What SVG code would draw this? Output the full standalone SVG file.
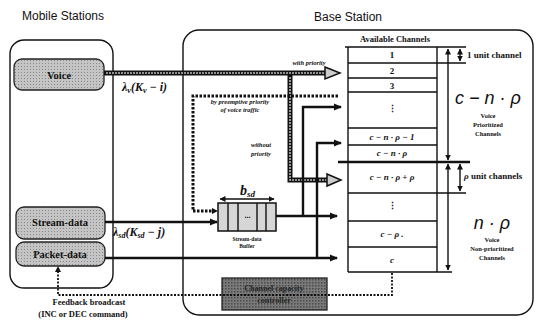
<svg xmlns="http://www.w3.org/2000/svg" width="537" height="320" viewBox="0 0 537 320">
<defs>
<marker id="ah" markerWidth="8" markerHeight="8" refX="7" refY="4" orient="auto" markerUnits="userSpaceOnUse"><path d="M0,0.5 L8,4 L0,7.5 Z" fill="#111"/></marker>
<marker id="ahs" markerWidth="6" markerHeight="6" refX="5.5" refY="3" orient="auto-start-reverse" markerUnits="userSpaceOnUse"><path d="M0,0 L6,3 L0,6 Z" fill="#111"/></marker>
<pattern id="dots" width="3" height="3" patternUnits="userSpaceOnUse"><rect width="3" height="3" fill="#c4c4c4"/><rect width="1" height="1" fill="#8a8a8a"/></pattern>
<pattern id="dark" width="3" height="3" patternUnits="userSpaceOnUse"><rect width="3" height="3" fill="#7a7a7a"/><rect width="1.5" height="1.5" fill="#4a4a4a"/></pattern>
</defs>
<style>
.sans{font-family:"Liberation Sans",Arial,sans-serif}
.ser{font-family:"Liberation Serif","DejaVu Serif","Times New Roman",serif;font-weight:bold;fill:#111}
.it{font-style:italic}
.frame{fill:none;stroke:#111;stroke-width:1.4}
.box{fill:url(#dots);stroke:#222;stroke-width:1.3}
.ln{fill:none;stroke:#111;stroke-width:2.4}
.thin{fill:none;stroke:#111;stroke-width:1.4}
.bandO{fill:none;stroke:#111;stroke-width:5}
.bandI{fill:none;stroke:#bbb;stroke-width:1.6;stroke-dasharray:2,1}
.dot{fill:none;stroke:#111;stroke-width:3;stroke-dasharray:2.5,1.5}
.fdot{fill:none;stroke:#111;stroke-width:1.8;stroke-dasharray:2,1.5}
</style>
<text class="sans" x="22" y="20" font-size="12" fill="#111">Mobile Stations</text>
<text class="sans" x="314" y="21" font-size="12" fill="#111">Base Station</text>

<g id="mobile-stations"><rect class="frame" x="10" y="40" width="103" height="248" rx="14"/></g>
<g id="base-station"><rect class="frame" x="183" y="30" width="350" height="285" rx="16"/></g>

<g id="voice"><rect class="box" x="14" y="59" width="90" height="31" rx="8"/><text class="ser" x="59" y="79" font-size="10.5" text-anchor="middle">Voice</text></g>
<g id="stream-data"><rect class="box" x="16" y="207" width="89" height="32" rx="8"/><text class="ser" x="60" y="226" font-size="10.5" text-anchor="middle">Stream-data</text></g>
<g id="packet-data"><rect class="box" x="16" y="242" width="89" height="24" rx="8"/><text class="ser" x="60" y="258" font-size="10.5" text-anchor="middle">Packet-data</text></g>

<g id="buffer">
<rect x="218" y="203" width="58" height="28" fill="#d6d6d6" stroke="#111" stroke-width="1.5"/>
<path class="thin" d="M228,203V231M238,203V231M257,203V231M266,203V231"/>
<text class="ser" x="247.5" y="218" font-size="8" text-anchor="middle">...</text>
<line x1="220" y1="199" x2="274" y2="199" class="thin" marker-start="url(#ahs)" marker-end="url(#ahs)"/>
<text class="ser it" x="240" y="195" font-size="14">b<tspan font-size="9" dy="2">sd</tspan></text>
<text class="ser" x="247" y="241" font-size="5.5" text-anchor="middle">Stream-data</text>
<text class="ser" x="247" y="248" font-size="5.5" text-anchor="middle">Buffer</text>
</g>

<g id="channel-table">
<text class="ser" x="395" y="42" font-size="8.5" text-anchor="middle">Available Channels</text>
<path class="thin" d="M348,47V272M437,47V272"/>
<path class="thin" stroke-width="1.8" d="M345,47H466M348,63H466M348,78H437M348,92H437M348,128H437M348,145H437M348,193H466M348,221H437M348,247H437M348,272H452"/>
<path class="ln" d="M338,162H470"/>
<g class="ser" font-size="9" text-anchor="middle">
<text x="392" y="58">1</text><text x="392" y="74">2</text><text x="392" y="89">3</text><text x="392" y="112">⋮</text>
<text class="it" x="392" y="140">c − n · ρ − 1</text><text class="it" x="392" y="156">c − n · ρ</text>
<text class="it" x="392" y="180">c − n · ρ + ρ</text><text x="392" y="209">⋮</text>
<text class="it" x="392" y="237">c − ρ .</text><text class="it" x="392" y="263">c</text>
</g>
<line class="thin" x1="448" y1="49" x2="448" y2="160" marker-start="url(#ahs)" marker-end="url(#ahs)"/>
<line class="thin" x1="448" y1="164" x2="448" y2="270" marker-start="url(#ahs)" marker-end="url(#ahs)"/>
<line class="thin" x1="460" y1="49" x2="460" y2="61" marker-start="url(#ahs)" marker-end="url(#ahs)"/>
<line class="thin" x1="460" y1="164" x2="460" y2="191" marker-start="url(#ahs)" marker-end="url(#ahs)"/>
<text class="ser" x="467" y="58" font-size="9">1 unit channel</text>
<text class="ser" x="464" y="179" font-size="9"><tspan class="it">ρ</tspan> unit channels</text>
<text class="sans it" x="488" y="104" font-size="18" text-anchor="middle" fill="#111">c − n · ρ</text>
<g class="ser" font-size="6.5" text-anchor="middle"><text x="488" y="118">Voice</text><text x="488" y="127">Prioritized</text><text x="488" y="136">Channels</text></g>
<text class="sans it" x="492" y="229" font-size="18" text-anchor="middle" fill="#111">n · ρ</text>
<g class="ser" font-size="6.5" text-anchor="middle"><text x="492" y="242">Voice</text><text x="492" y="251">Non-prioritized</text><text x="492" y="260">Channels</text></g>
</g>

<g id="controller">
<rect x="222" y="278" width="105" height="32" fill="url(#dark)" stroke="#222" stroke-width="1.3"/>
<g class="ser" font-size="8" text-anchor="middle"><text x="274" y="291" fill="#262626">Channel capacity</text><text x="274" y="303" fill="#262626">controller</text></g>
</g>

<g id="connectors">
<path class="bandO" d="M104,73H328M290,75V180H330"/>
<path class="bandI" d="M106,73H328M290,77V180H330"/>
<polygon points="325,67 340,73 325,79" fill="#ccc" stroke="#111" stroke-width="1.5"/>
<polygon points="327,174 341,180 327,186" fill="#ccc" stroke="#111" stroke-width="1.5"/>
<path class="dot" d="M338,96H193V211H214"/>
<path d="M212,208 L218,211 L212,214 Z" fill="#111"/>
<line class="ln" x1="105" y1="222" x2="217" y2="222" stroke-width="2" marker-end="url(#ah)"/>
<line class="ln" x1="276" y1="216" x2="337" y2="216" marker-end="url(#ah)"/>
<line class="ln" x1="105" y1="258" x2="337" y2="258" marker-end="url(#ah)"/>
<path class="ln" d="M303,216V107H341" marker-end="url(#ah)"/>
<path class="ln" d="M317,258V143H341" marker-end="url(#ah)"/>
<path class="fdot" d="M392,273V295H58V270"/>
<path d="M55,272 L58,266 L61,272 Z" fill="#111"/>
</g>

<g class="ser" fill="#111">
<text class="it" x="122" y="91" font-size="12">λ<tspan font-size="8" dy="2">v</tspan><tspan dy="-2">(K</tspan><tspan font-size="8" dy="2">v</tspan><tspan dy="-2"> − i)</tspan></text>
<text class="it" x="113" y="236" font-size="12">λ<tspan font-size="8" dy="2">sd</tspan><tspan dy="-2">(K</tspan><tspan font-size="8" dy="2">sd</tspan><tspan dy="-2"> − j)</tspan></text>
<text class="it" x="309" y="65" font-size="6.5" text-anchor="middle">with priority</text>
<text class="it" x="240" y="104" font-size="6.5" text-anchor="middle">by preemptive priority</text>
<text class="it" x="240" y="112" font-size="6.5" text-anchor="middle">of voice traffic</text>
<text class="it" x="261" y="147" font-size="6.5" text-anchor="middle">without</text>
<text class="it" x="261" y="156" font-size="6.5" text-anchor="middle">priority</text>
<text x="89" y="305" font-size="8.5" text-anchor="middle">Feedback broadcast</text>
<text x="83" y="317" font-size="8.5" text-anchor="middle">(INC or DEC command)</text>
</g>
</svg>
